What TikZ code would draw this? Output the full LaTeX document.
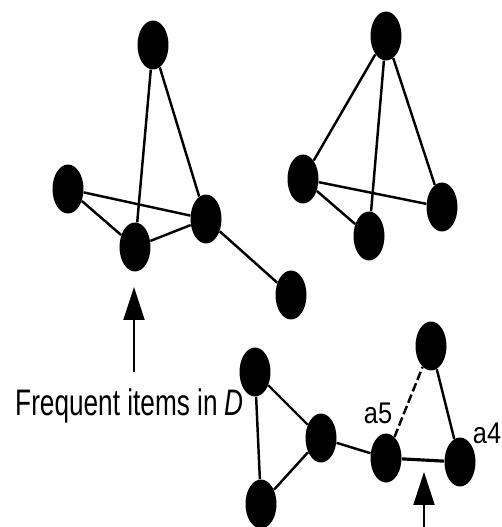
\documentclass[tikz,border=0pt]{standalone}
\usepackage{fontspec}
\setmainfont{Liberation Sans}
\usetikzlibrary{shapes.geometric,arrows.meta}
\begin{document}
\begin{tikzpicture}[
    x=0.02cm, y=-0.02cm,
    item/.style={ellipse, fill=black, draw=none, inner sep=0pt, minimum width=0.62cm, minimum height=0.98cm},
    link/.style={draw, line width=1.4pt},
    pointer/.style={draw, line width=1.1pt, -{Triangle[width=0.42cm, length=0.66cm]}},
    label text/.style={font=\fontsize{17}{19}\selectfont, inner sep=0pt, xscale=0.85}
]
    \useasboundingbox (0,0) rectangle (502,527);
    % left group
    \node [item] (t1) at (153,45) {};
    \node [item] (l1) at (68,189) {};
    \node [item] (b1) at (135,247) {};
    \node [item] (r1) at (206,219) {};
    \node [item] (f1) at (291,295) {};
    \draw [link] (t1) -- (b1);
    \draw [link] (t1) -- (r1);
    \draw [link] (l1) -- (r1);
    \draw [link] (l1) -- (b1);
    \draw [link] (b1) -- (r1);
    \draw [link] (r1) -- (f1);
    % upper right group
    \node [item] (t2) at (386,36) {};
    \node [item] (l2) at (303,179) {};
    \node [item] (b2) at (369,236) {};
    \node [item] (r2) at (442,207) {};
    \draw [link] (t2) -- (l2);
    \draw [link] (t2) -- (b2);
    \draw [link] (t2) -- (r2);
    \draw [link] (l2) -- (r2);
    \draw [link] (l2) -- (b2);
    % lower group
    \node [item] (p) at (255,372) {};
    \node [item] (q) at (321,438) {};
    \node [item] (s) at (261,504) {};
    \node [item] (a5) at (386,458) {};
    \node [item] (a4) at (460,462) {};
    \node [item] (u) at (431,346) {};
    \draw [link] (p) -- (q);
    \draw [link] (p) -- (s);
    \draw [link] (s) -- (q);
    \draw [link] (q) -- (a5);
    \draw [link, line width=1.8pt] (a5) -- (a4);
    \draw [link, dashed, dash pattern=on 5pt off 2pt] (a5) -- (u);
    \draw [link] (u) -- (a4);
    \node [label text] (a5 label) at (378,413) {a5};
    \node [label text] (a4 label) at (487,433) {a4};
    % text and arrows
    \node [anchor=base west, inner sep=0pt, xscale=0.71, font=\fontsize{21}{24}\selectfont] (freq) at (15,415) {Frequent items in \textit{D}};
    \coordinate (freq tail) at (134,372);
    \coordinate (freq tip) at (134,287);
    \draw [pointer] (freq tail) -- (freq tip);
    \coordinate (edge tail) at (424,527);
    \coordinate (edge tip) at (424,472);
    \draw [pointer] (edge tail) -- (edge tip);
\end{tikzpicture}
\end{document}
